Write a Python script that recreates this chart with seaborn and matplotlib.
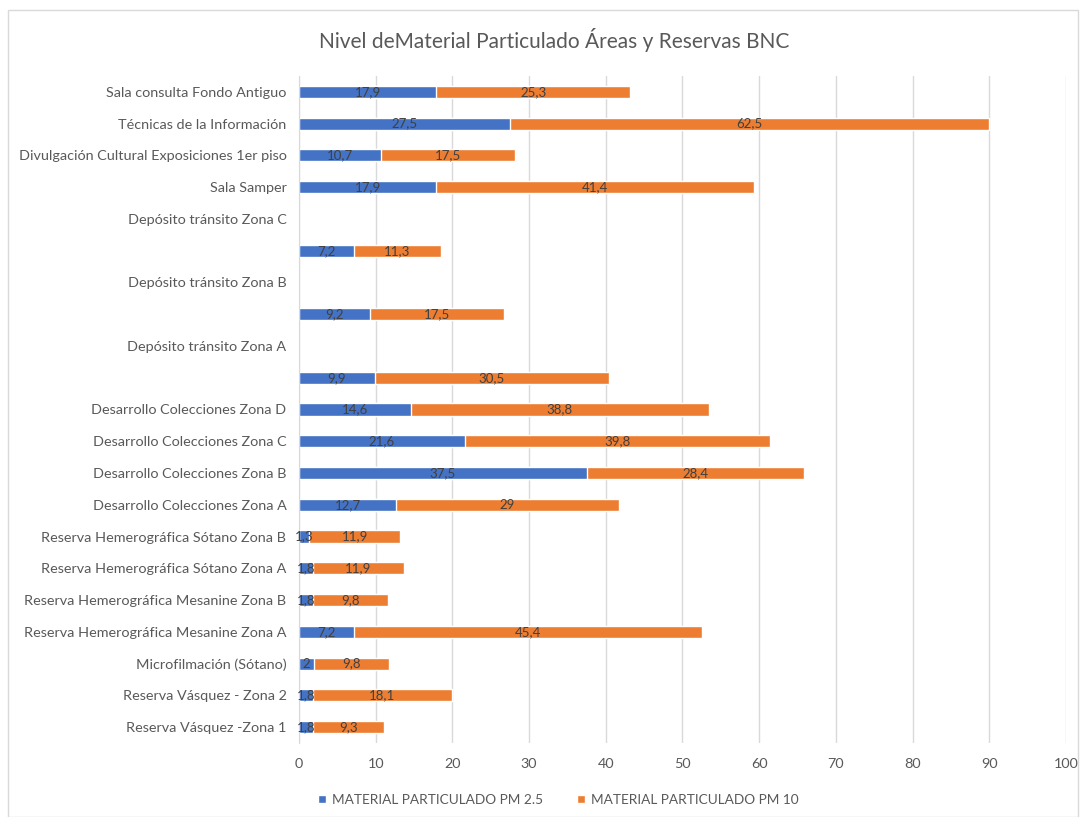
import numpy as np
import pandas as pd
import matplotlib
matplotlib.use("Agg")
import matplotlib.pyplot as plt
import seaborn as sns
from matplotlib.patches import Rectangle, Patch

# rows from top to bottom (blank labels are rows whose label sits on the row above)
areas = [
    "Sala consulta Fondo Antiguo",
    "Técnicas de la Información",
    "Divulgación Cultural Exposiciones 1er piso",
    "Sala Samper",
    "Depósito tránsito Zona C",
    " ",
    "Depósito tránsito Zona B",
    "  ",
    "Depósito tránsito Zona A",
    "   ",
    "Desarrollo Colecciones Zona D",
    "Desarrollo Colecciones Zona C",
    "Desarrollo Colecciones Zona B",
    "Desarrollo Colecciones Zona A",
    "Reserva Hemerográfica Sótano Zona B",
    "Reserva Hemerográfica Sótano Zona A",
    "Reserva Hemerográfica Mesanine Zona B",
    "Reserva Hemerográfica Mesanine Zona A",
    "Microfilmación (Sótano)",
    "Reserva Vásquez - Zona 2",
    "Reserva Vásquez -Zona 1",
]
pm25 = [17.9, 27.5, 10.7, 17.9, np.nan, 7.2, np.nan, 9.2, np.nan, 9.9,
        14.6, 21.6, 37.5, 12.7, 1.3, 1.8, 1.8, 7.2, 2.0, 1.8, 1.8]
pm10 = [25.3, 62.5, 17.5, 41.4, np.nan, 11.3, np.nan, 17.5, np.nan, 30.5,
        38.8, 39.8, 28.4, 29, 11.9, 11.9, 9.8, 45.4, 9.8, 18.1, 9.3]

series_names = ["MATERIAL PARTICULADO PM 2.5", "MATERIAL PARTICULADO PM 10"]
title = "Nivel deMaterial Particulado Áreas y Reservas BNC"

blue = "#4472C4"
orange = "#ED7D31"
text_col = "#595959"

df = pd.DataFrame({"area": areas, "pm25": pm25, "pm10": pm10})
df["total"] = df["pm25"] + df["pm10"]

sns.set_style("white")
plt.rcParams["font.family"] = ["Lato", "DejaVu Sans"]

fig = plt.figure(figsize=(10.86, 8.17), dpi=100)
ax = fig.add_axes([0.2753, 0.0906, 0.7063, 0.8164])

sns.barplot(data=df, x="total", y="area", order=areas, color=orange,
            orient="h", width=0.38, ax=ax, saturation=1, errorbar=None)
sns.barplot(data=df, x="pm25", y="area", order=areas, color=blue,
            orient="h", width=0.38, ax=ax, saturation=1, errorbar=None)


def fmt(v):
    s = f"{v:.1f}"
    if s.endswith(".0"):
        s = s[:-2]
    return s.replace(".", ",")


for i, (a, b) in enumerate(zip(pm25, pm10)):
    if np.isnan(a):
        continue
    ax.text(a / 2, i, fmt(a), ha="center", va="center", fontsize=9.5, color="#404040")
    ax.text(a + b / 2, i, fmt(b), ha="center", va="center", fontsize=9.5, color="#404040")

ax.set_xlim(0, 100)
ax.set_ylim(len(areas) - 0.5, -0.5)
ax.set_xticks(range(0, 101, 10))
ax.xaxis.grid(True, color="#d9d9d9", linewidth=1)
ax.set_axisbelow(True)
for sp in ["top", "right", "bottom"]:
    ax.spines[sp].set_visible(False)
ax.spines["left"].set_color("#d9d9d9")
ax.set_xlabel("")
ax.set_ylabel("")
ax.tick_params(axis="y", length=0, labelsize=10.4, labelcolor=text_col, pad=9)
ax.tick_params(axis="x", length=0, labelsize=10.4, labelcolor=text_col, pad=11)

fig.text(0.51, 0.951, title, ha="center", va="center", fontsize=15, color=text_col)

handles = [Patch(facecolor=blue), Patch(facecolor=orange)]
fig.legend(handles, series_names, loc="center", bbox_to_anchor=(0.514, 0.021),
           ncol=2, frameon=False, fontsize=9.8, labelcolor=text_col,
           handlelength=0.6, handleheight=0.6, columnspacing=2.5, handletextpad=0.4)

fig.patches.append(Rectangle((0.007, 0.0), 0.986, 0.988, transform=fig.transFigure,
                             fill=False, edgecolor="#d9d9d9", linewidth=1))

fig.savefig("out.png", dpi=100)
